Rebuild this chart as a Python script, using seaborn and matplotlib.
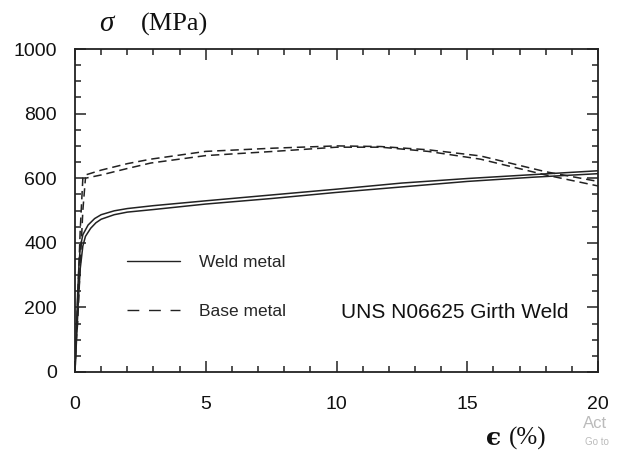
import numpy as np
import pandas as pd
import seaborn as sns
import matplotlib
matplotlib.use("Agg")
import matplotlib.pyplot as plt
from matplotlib.lines import Line2D
from matplotlib.ticker import MultipleLocator

# ---- data ----
weld1_strain = [0, 0.05, 0.1, 0.15, 0.2, 0.3, 0.5, 0.75, 1.0, 1.5, 2, 3, 5, 7.5, 10, 12.5, 15, 17.5, 20]
weld1_stress = [0, 120, 240, 330, 385, 425, 455, 475, 487, 499, 506, 515, 530, 548, 566, 585, 599, 611, 623]
weld2_strain = [0, 0.07, 0.14, 0.2, 0.3, 0.4, 0.6, 0.8, 1.0, 1.5, 2, 3, 5, 7.5, 10, 12.5, 15, 17.5, 20]
weld2_stress = [0, 120, 240, 320, 390, 420, 445, 462, 473, 487, 495, 503, 520, 537, 556, 573, 590, 603, 614]
base1_strain = [0, 0.1, 0.2, 0.3, 0.4, 1, 2, 2.9, 5, 7.6, 10, 11.7, 13.5, 15.5, 18, 20]
base1_stress = [0, 220, 440, 600, 610, 625, 645, 659, 683, 693, 700, 698, 688, 669, 620, 590]
base2_strain = [0, 0.1, 0.2, 0.3, 0.4, 1, 2, 2.9, 5, 7.6, 10, 11.7, 13.5, 15.5, 18, 20]
base2_stress = [50, 150, 330, 500, 600, 610, 630, 647, 670, 683, 696, 696, 683, 659, 610, 576]

materials = ["Weld metal", "Base metal"]
x_ticks = [0, 5, 10, 15, 20]
y_ticks = [0, 200, 400, 600, 800, 1000]

frames = []
for name, mat, xs, ys in [("w1", materials[0], weld1_strain, weld1_stress),
                          ("w2", materials[0], weld2_strain, weld2_stress),
                          ("b1", materials[1], base1_strain, base1_stress),
                          ("b2", materials[1], base2_strain, base2_stress)]:
    frames.append(pd.DataFrame({"strain": xs, "stress": ys, "material": mat, "specimen": name}))
df = pd.concat(frames, ignore_index=True)

sns.set_theme(style="ticks")
plt.rcParams["font.family"] = ["Liberation Sans", "DejaVu Sans"]

fig = plt.figure(figsize=(6.19, 4.5), dpi=100)
ax = fig.add_axes([75/619, 1-372/450, (598-75)/619, (372-49)/450])

sns.lineplot(data=df, x="strain", y="stress", style="material", units="specimen",
             estimator=None, sort=False, color="#222222", linewidth=1.1,
             dashes={materials[0]: "", materials[1]: (5.5, 3.2)}, ax=ax, legend=False)

ax.set_xlim(0, 20)
ax.set_ylim(0, 1000)
ax.set_xticks(x_ticks)
ax.set_yticks(y_ticks)
ax.xaxis.set_minor_locator(MultipleLocator(1))
ax.yaxis.set_minor_locator(MultipleLocator(50))
ax.tick_params(which="both", direction="in", top=True, right=True, color="#222222", width=1.1)
ax.tick_params(which="major", length=8, labelsize=14, labelcolor="#111111")
ax.tick_params(axis="y", which="major", pad=13)
ax.tick_params(axis="x", which="major", pad=17)
ax.tick_params(which="minor", length=4.5)
for s in ax.spines.values():
    s.set_linewidth(1.3)
    s.set_color("#222222")
ax.set_xlabel("")
ax.set_ylabel("")

handles = [Line2D([], [], color="#222222", lw=1.0),
           Line2D([], [], color="#222222", lw=1.0, dashes=(8.5, 7))]
leg = ax.legend(handles, materials, loc="center left", bbox_to_anchor=(0.087, 0.263),
                frameon=False, fontsize=12.5, handlelength=3.0, handletextpad=1.1,
                labelspacing=1.95, borderaxespad=0)

ax.text(0.943, 0.184, "UNS N06625 Girth Weld", transform=ax.transAxes, ha="right",
        va="center", fontsize=15, color="#111111")

serif = ["Liberation Serif", "DejaVu Serif"]
fig.text(99/619, 1-31/450, "σ", fontsize=21, style="italic", family=serif, color="#111111")
fig.text(141/619, 1-31/450, "(MPa)", fontsize=19, family=serif, color="#111111")
fig.text(486/619, 1-445/450, "ϵ", fontsize=18, weight="bold", family=["DejaVu Serif"], color="#111111")
fig.text(509/619, 1-445/450, "(%)", fontsize=18, family=serif, color="#111111")
fig.text(583/619, 1-428/450, "Act", fontsize=12, color="#bbbbbb")
fig.text(585/619, 1-445/450, "Go to", fontsize=7, color="#bbbbbb")

fig.savefig("out.png", dpi=100)
